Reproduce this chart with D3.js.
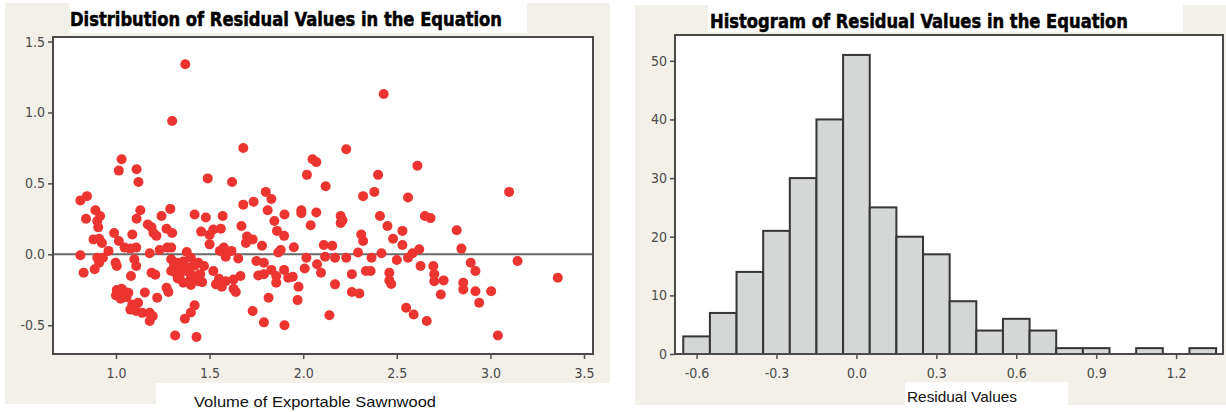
<!DOCTYPE html>
<html>
<head>
<meta charset="utf-8">
<script src="https://cdn.jsdelivr.net/npm/d3@7"></script>
<style>
    body { margin: 0; background: #fff; }
    svg { display: block; }
    .axis .domain { display: none; }
    .axis .tick line { stroke: #505050; stroke-width: 1.5; }
    .axis .tick text { font-family: "DejaVu Sans Condensed", "DejaVu Sans", sans-serif; font-size: 14px; fill: #4a4a4a; }
    .title { font-family: "DejaVu Sans Condensed", "DejaVu Sans", sans-serif; font-weight: bold; font-size: 20px; fill: #000; stroke: #000; stroke-width: 0.5; }
    .label { font-family: "Liberation Sans", Arial, sans-serif; font-size: 15px; fill: #111; }
</style>
</head>
<body>
<svg class="js-chart" width="1226" height="412"></svg>
<script>
/* global d3 */

// [volume of exportable sawnwood, residual]
var residualPoints = [
    [1.37, 1.34], [2.43, 1.13], [1.30, 0.94], [1.68, 0.75], [2.23, 0.74], [1.03, 0.67], [1.015, 0.59],
    [1.11, 0.60], [1.12, 0.51], [1.49, 0.535], [1.62, 0.51], [2.05, 0.67], [2.07, 0.65], [2.02, 0.56],
    [2.12, 0.48], [2.40, 0.56], [2.61, 0.625], [3.10, 0.44], [2.38, 0.44], [2.32, 0.41], [2.56, 0.40],
    [1.80, 0.44], [1.83, 0.39], [1.735, 0.37], [1.68, 0.35], [0.81, 0.38], [0.845, 0.41], [0.89, 0.31],
    [0.915, 0.27], [0.84, 0.25], [1.13, 0.31], [1.29, 0.32], [1.42, 0.28], [1.48, 0.26], [1.57, 0.27],
    [1.243, 0.27], [1.11, 0.25], [1.81, 0.31], [1.90, 0.28], [1.99, 0.31], [1.99, 0.29], [2.07, 0.295],
    [2.20, 0.27], [2.21, 0.24], [2.41, 0.27], [2.65, 0.27], [2.68, 0.255], [1.846, 0.235], [2.20, 0.22],
    [0.90, 0.235], [0.905, 0.19], [1.17, 0.21], [1.19, 0.19], [0.99, 0.15], [1.087, 0.14], [1.20, 0.15],
    [1.216, 0.13], [1.27, 0.18], [1.30, 0.15], [1.455, 0.16], [1.52, 0.175], [1.56, 0.18], [1.67, 0.20],
    [1.70, 0.125], [1.86, 0.165], [1.898, 0.13], [2.04, 0.205], [2.31, 0.14], [2.32, 0.094], [2.45, 0.20],
    [2.53, 0.165], [2.82, 0.17], [0.88, 0.105], [0.91, 0.11], [0.925, 0.08], [1.015, 0.094], [1.50, 0.137],
    [1.50, 0.07], [1.694, 0.08], [1.73, 0.105], [1.78, 0.06], [1.95, 0.05], [2.11, 0.066], [2.155, 0.06],
    [2.48, 0.11], [2.53, 0.066], [2.845, 0.04], [2.62, 0.035],
    [0.96, 0.024], [1.046, 0.047], [1.077, 0.04], [1.108, 0.047], [1.18, 0.007], [1.233, 0.03],
    [1.274, 0.047], [1.295, 0.047], [1.378, 0.016], [1.555, 0.024], [1.576, 0.047], [1.617, 0.024],
    [1.867, 0.012], [1.88, 0.03], [2.293, 0.012], [2.418, 0.007], [2.584, 0.007], [0.81, -0.007],
    [0.90, -0.024], [0.93, -0.024], [0.998, -0.06], [1.098, -0.035], [1.295, -0.035], [1.326, -0.06],
    [1.40, -0.024], [1.44, -0.06], [1.586, -0.017], [1.653, -0.03], [1.75, -0.047], [1.79, -0.06],
    [2.017, -0.024], [2.117, -0.017], [2.17, -0.024], [2.23, -0.024], [2.365, -0.024], [2.50, -0.04],
    [2.56, -0.024], [3.145, -0.047], [2.895, -0.06], [0.91, -0.06],
    [0.827, -0.13], [0.886, -0.106], [1.004, -0.083], [1.108, -0.083], [1.08, -0.153], [1.19, -0.13],
    [1.21, -0.144], [1.295, -0.118], [1.32, -0.13], [1.357, -0.10], [1.393, -0.094], [1.34, -0.153],
    [1.414, -0.153], [1.44, -0.19], [1.47, -0.083], [1.52, -0.118], [1.55, -0.172], [1.586, -0.19],
    [1.628, -0.177], [1.665, -0.153], [1.76, -0.15], [1.79, -0.14], [1.83, -0.11], [1.856, -0.153],
    [1.898, -0.11], [1.92, -0.165], [1.944, -0.158], [2.008, -0.10], [2.074, -0.07], [2.095, -0.13],
    [2.26, -0.14], [2.335, -0.118], [2.36, -0.118], [2.46, -0.13], [2.627, -0.083], [2.695, -0.083],
    [2.70, -0.14], [2.75, -0.184], [2.70, -0.19], [2.92, -0.118], [3.36, -0.165], [2.855, -0.20],
    [1.36, -0.05], [1.38, -0.12], [1.42, -0.08], [1.45, -0.14], [1.33, -0.17], [1.36, -0.2],
    [1.40, -0.17], [1.31, -0.08],
    [1.004, -0.252], [1.03, -0.243], [1.05, -0.267], [1.0, -0.29], [1.025, -0.314], [1.056, -0.302],
    [1.035, -0.283], [1.066, -0.271], [1.154, -0.27], [1.22, -0.306], [1.27, -0.236], [1.28, -0.266],
    [1.40, -0.217], [1.46, -0.196], [1.534, -0.212], [1.565, -0.229], [1.628, -0.243], [1.64, -0.266],
    [1.856, -0.20], [1.975, -0.229], [2.17, -0.212], [2.26, -0.266], [2.30, -0.276], [2.46, -0.184],
    [2.47, -0.21], [2.735, -0.283], [2.855, -0.248], [2.92, -0.26], [3.004, -0.26], [1.815, -0.306],
    [1.97, -0.323], [2.94, -0.342], [1.087, -0.354], [1.118, -0.342], [1.077, -0.39], [1.108, -0.40],
    [1.14, -0.413], [1.18, -0.413], [1.196, -0.436], [1.18, -0.47], [1.42, -0.36], [1.40, -0.41],
    [1.368, -0.455], [1.73, -0.40], [1.79, -0.48], [1.90, -0.50], [2.14, -0.43], [2.55, -0.377],
    [2.59, -0.425], [2.66, -0.47], [1.316, -0.573], [1.43, -0.583], [3.04, -0.573]
];

var binCenters = [-0.6, -0.5, -0.4, -0.3, -0.2, -0.1, 0.0, 0.1, 0.2, 0.3, 0.4, 0.5, 0.6, 0.7, 0.8, 0.9, 1.0, 1.1, 1.2, 1.3];
var binCounts  = [3, 7, 14, 21, 30, 40, 51, 25, 20, 17, 9, 4, 6, 4, 1, 1, 0, 1, 0, 1];
var binWidth = 0.1;

var scatterXTicks = [1.0, 1.5, 2.0, 2.5, 3.0, 3.5];
var scatterYTicks = [-0.5, 0.0, 0.5, 1.0, 1.5];
var histXTicks = [-0.6, -0.3, 0.0, 0.3, 0.6, 0.9, 1.2];
var histYTicks = [0, 10, 20, 30, 40, 50];

var scatterTitle = "Distribution of Residual Values in the Equation";
var scatterXLabel = "Volume of Exportable Sawnwood";
var histTitle = "Histogram of Residual Values in the Equation";
var histXLabel = "Residual Values";

var beige = "#f3f0ea";
var svg = d3.select(".js-chart");

function box(x, y, w, h, fill) {
    svg.append("rect").attr("x", x).attr("y", y).attr("width", w).attr("height", h).attr("fill", fill);
}

function fixed1(d) { return d.toFixed(1); }

// backgrounds
box(5, 3, 605, 401, beige);
box(70, 0, 457, 33, "#fff");
box(156, 383, 454, 29, "#fff");
box(635, 5, 591, 400, beige);
box(708, 0, 475, 32, "#fff");
box(905, 382, 163, 23, "#fff");

// ---- scatter of residuals
var sFrame = { left: 53, top: 37, right: 593, bottom: 354 };
var sx = d3.scaleLinear().domain([0.6635, 3.548]).range([sFrame.left, sFrame.right]);
var sy = d3.scaleLinear().domain([-0.703, 1.532]).range([sFrame.bottom, sFrame.top]);

svg.append("rect")
    .attr("x", sFrame.left).attr("y", sFrame.top)
    .attr("width", sFrame.right - sFrame.left).attr("height", sFrame.bottom - sFrame.top)
    .attr("fill", "#fff");

svg.append("line")
    .attr("x1", sFrame.left).attr("x2", sFrame.right)
    .attr("y1", sy(0)).attr("y2", sy(0))
    .attr("stroke", "#6a6a6a").attr("stroke-width", 2);

svg.append("g").selectAll("circle").data(residualPoints)
    .enter().append("circle")
        .attr("cx", function (d) { return sx(d[0]); })
        .attr("cy", function (d) { return sy(d[1]); })
        .attr("r", 5)
        .attr("fill", "#ec3431");

svg.append("g")
    .attr("class", "axis")
    .attr("transform", "translate(" + sFrame.left + ",0)")
    .call(d3.axisLeft(sy).tickValues(scatterYTicks).tickFormat(fixed1).tickSize(5).tickPadding(3));

svg.append("g")
    .attr("class", "axis")
    .attr("transform", "translate(0," + sFrame.bottom + ")")
    .call(d3.axisBottom(sx).tickValues(scatterXTicks).tickFormat(fixed1).tickSize(5).tickPadding(9));

svg.append("rect")
    .attr("x", sFrame.left).attr("y", sFrame.top)
    .attr("width", sFrame.right - sFrame.left).attr("height", sFrame.bottom - sFrame.top)
    .attr("fill", "none").attr("stroke", "#4a4a4a").attr("stroke-width", 2);

svg.append("text").attr("class", "title")
    .attr("x", 70).attr("y", 26)
    .attr("textLength", 432).attr("lengthAdjust", "spacingAndGlyphs")
    .text(scatterTitle);

svg.append("text").attr("class", "label")
    .attr("x", 194).attr("y", 407)
    .attr("textLength", 242).attr("lengthAdjust", "spacingAndGlyphs")
    .text(scatterXLabel);

// ---- histogram of residuals
var hFrame = { left: 675, top: 35, right: 1223, bottom: 354 };
var hx = d3.scaleLinear().domain([-0.681, 1.376]).range([hFrame.left, hFrame.right]);
var hy = d3.scaleLinear().domain([0, 54.4]).range([hFrame.bottom, hFrame.top]);

svg.append("rect")
    .attr("x", hFrame.left).attr("y", hFrame.top)
    .attr("width", hFrame.right - hFrame.left).attr("height", hFrame.bottom - hFrame.top)
    .attr("fill", "#fff");

var bins = binCenters.map(function (c, i) { return { center: c, count: binCounts[i] }; })
    .filter(function (d) { return d.count > 0; });

svg.append("g").selectAll("rect").data(bins)
    .enter().append("rect")
        .attr("x", function (d) { return hx(d.center - binWidth / 2); })
        .attr("width", function (d) { return hx(d.center + binWidth / 2) - hx(d.center - binWidth / 2); })
        .attr("y", function (d) { return hy(d.count); })
        .attr("height", function (d) { return hy(0) - hy(d.count); })
        .attr("fill", "#d5d7d7")
        .attr("stroke", "#353535")
        .attr("stroke-width", 2);

svg.append("g")
    .attr("class", "axis")
    .attr("transform", "translate(" + hFrame.left + ",0)")
    .call(d3.axisLeft(hy).tickValues(histYTicks).tickFormat(d3.format("d")).tickSize(5).tickPadding(3));

svg.append("g")
    .attr("class", "axis")
    .attr("transform", "translate(0," + hFrame.bottom + ")")
    .call(d3.axisBottom(hx).tickValues(histXTicks).tickFormat(fixed1).tickSize(5).tickPadding(9));

svg.append("rect")
    .attr("x", hFrame.left).attr("y", hFrame.top)
    .attr("width", hFrame.right - hFrame.left).attr("height", hFrame.bottom - hFrame.top)
    .attr("fill", "none").attr("stroke", "#4a4a4a").attr("stroke-width", 2);

svg.append("text").attr("class", "title")
    .attr("x", 710).attr("y", 28)
    .attr("textLength", 418).attr("lengthAdjust", "spacingAndGlyphs")
    .text(histTitle);

svg.append("text").attr("class", "label")
    .attr("x", 907).attr("y", 402)
    .attr("textLength", 110).attr("lengthAdjust", "spacingAndGlyphs")
    .text(histXLabel);
</script>
</body>
</html>
